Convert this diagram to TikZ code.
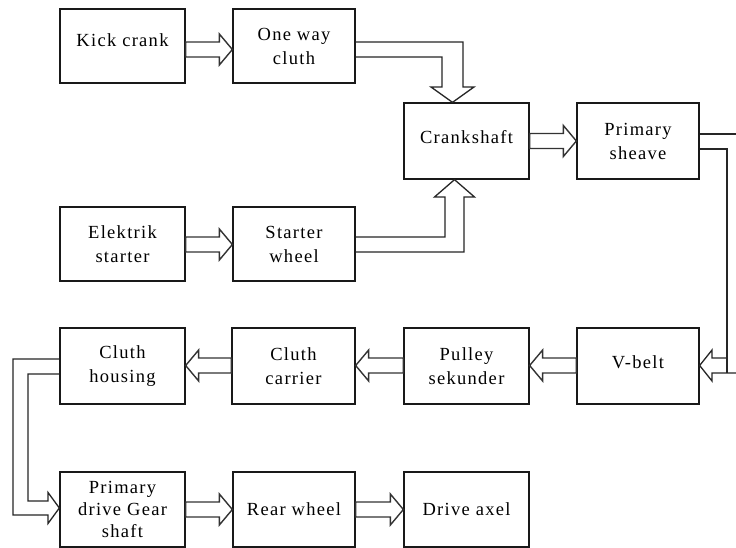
\documentclass[tikz,border=0pt]{standalone}
\usepackage{fontspec}
\setmainfont{Liberation Serif}[LetterSpace=7]
\usetikzlibrary{calc}

\tikzset{
  box/.style={draw=black!90, line width=1.3pt, fill=white, inner sep=0pt,
    align=center, font=\fontsize{18.5}{24}\selectfont},
  blk/.style={draw=black!80, line width=1.4pt, fill=white, line join=miter},
  lnk/.style={draw=black!85, line width=1.3pt, line join=miter},
}

% right-pointing block arrow: from #1.east to #2.west, axis at y=#3 (px, downwards)
\newcommand\arrR[3]{%
  \path[blk] let \p1=(#1.east), \p2=(#2.west) in
    (\x1,{-(#3-7.5)*1pt}) -- ({\x2-13pt},{-(#3-7.5)*1pt}) -- ({\x2-13pt},{-(#3-15.5)*1pt})
    -- (\x2,{-(#3)*1pt}) -- ({\x2-13pt},{-(#3+15.5)*1pt}) -- ({\x2-13pt},{-(#3+7.5)*1pt})
    -- (\x1,{-(#3+7.5)*1pt}) -- cycle;}
% left-pointing block arrow: from #1.west to #2.east
\newcommand\arrL[3]{%
  \path[blk] let \p1=(#1.west), \p2=(#2.east) in
    (\x1,{-(#3-7.5)*1pt}) -- ({\x2+13pt},{-(#3-7.5)*1pt}) -- ({\x2+13pt},{-(#3-15.5)*1pt})
    -- (\x2,{-(#3)*1pt}) -- ({\x2+13pt},{-(#3+15.5)*1pt}) -- ({\x2+13pt},{-(#3+7.5)*1pt})
    -- (\x1,{-(#3+7.5)*1pt}) -- cycle;}

\begin{document}
\begin{tikzpicture}[x=1pt,y=1pt]
\useasboundingbox (0,0) rectangle (736,-548);
\fill[white] (0,0) rectangle (736,-548);

% boxes
\node[box, minimum width=125pt, minimum height=74pt, text depth=12pt] (kick) at (122.5,-46) {Kick crank};
\node[box, minimum width=122pt, minimum height=74pt] (oneway) at (294,-46) {One way\\cluth};
\node[box, minimum width=125pt, minimum height=76pt, text depth=8pt] (crank) at (466.5,-141) {Crankshaft};
\node[box, minimum width=122pt, minimum height=76pt] (primary) at (638,-141) {Primary\\sheave};
\node[box, minimum width=125pt, minimum height=74pt] (elek) at (122.5,-244) {Elektrik\\starter};
\node[box, minimum width=122pt, minimum height=74pt] (starter) at (294,-244) {Starter\\wheel};
\node[box, minimum width=125pt, minimum height=76pt] (housing) at (122.5,-366) {Cluth\\housing};
\node[box, minimum width=123pt, minimum height=76pt] (carrier) at (293.5,-366) {Cluth\\carrier};
\node[box, minimum width=125pt, minimum height=76pt] (pulley) at (466.5,-366) {Pulley\\sekunder};
\node[box, minimum width=122pt, minimum height=76pt, text depth=8pt] (vbelt) at (638,-366) {V-belt};
\node[box, minimum width=125pt, minimum height=75pt, font=\fontsize{18.5}{22}\selectfont] (pdg) at (122.5,-509.5) {Primary\\drive Gear\\shaft};
\node[box, minimum width=122pt, minimum height=75pt] (rear) at (294,-509.5) {Rear wheel};
\node[box, minimum width=125pt, minimum height=75pt] (drive) at (466.5,-509.5) {Drive axel};

% straight block arrows
\arrR{kick}{oneway}{49.5}
\arrR{elek}{starter}{244.5}
\arrR{crank}{primary}{141}
\arrL{vbelt}{pulley}{365.5}
\arrL{pulley}{carrier}{365.5}
\arrL{carrier}{housing}{365.5}
\arrR{pdg}{rear}{509.5}
\arrR{rear}{drive}{509.5}

% one way cluth -> crankshaft
\draw[lnk] (oneway.east |- 0,-42) -- (463,-42) -- (463,-87) -- (474,-87)
  -- (crank.north -| 452.5,0) -- (431,-87) -- (442,-87) -- (442,-57) -- (oneway.east |- 0,-57);
% starter wheel -> crankshaft
\draw[lnk] (starter.east |- 0,-237) -- (445,-237) -- (445,-197) -- (434.5,-197)
  -- (crank.south -| 454.5,0) -- (474.5,-197) -- (464,-197) -- (464,-252) -- (starter.east |- 0,-252);
% primary sheave -> v-belt
\draw[lnk] (primary.east |- 0,-134) -- (736,-134);
\draw[lnk] (primary.east |- 0,-149) -- (727,-149) -- (727,-373);
\draw[lnk] (736,-373) -- (712,-373) -- (712,-381) -- (vbelt.east |- 0,-365.5)
  -- (712,-350) -- (712,-358) -- (727,-358);
% cluth housing -> primary drive gear shaft
\draw[lnk] (housing.west |- 0,-359) -- (13,-359) -- (13,-515) -- (48,-515) -- (48,-523.5)
  -- (pdg.west |- 0,-508) -- (48,-492.5) -- (48,-501) -- (28,-501) -- (28,-374) -- (housing.west |- 0,-374);
\end{tikzpicture}
\end{document}
